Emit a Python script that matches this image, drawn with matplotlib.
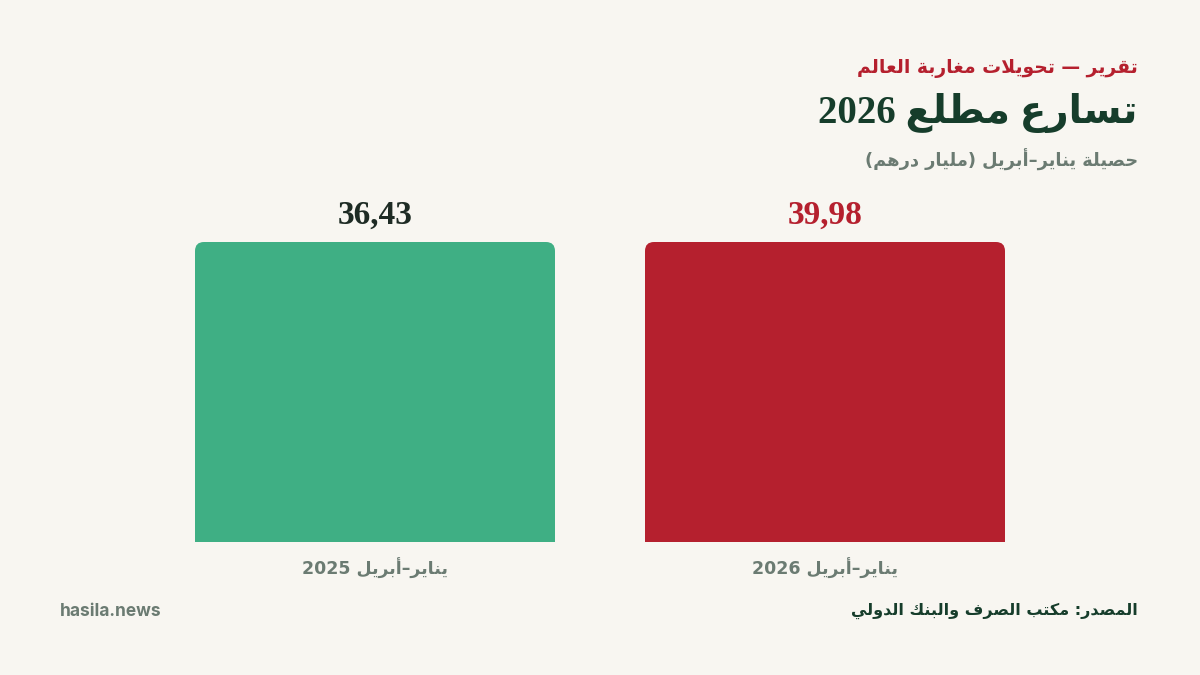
import re
import matplotlib
matplotlib.use("Agg")
import matplotlib.pyplot as plt
from matplotlib.patches import FancyBboxPatch
from matplotlib.transforms import IdentityTransform

# ---------------- data ----------------
categories = ["يناير–أبريل 2025", "يناير–أبريل 2026"]
values = [36.43, 39.98]
value_labels = ["36,43", "39,98"]
bar_colors = ["#3FAF84", "#B5202E"]
value_colors = ["#1E2B24", "#B5202E"]

kicker = "تقرير — تحويلات مغاربة العالم"
title = "تسارع مطلع 2026"
subtitle = "حصيلة يناير–أبريل (مليار درهم)"
source = "المصدر: مكتب الصرف والبنك الدولي"
brand = "hasila.news"

# ---------------- minimal Arabic shaping + bidi ----------------
FORMS = {
    'ا': ('\uFE8D', '\uFE8E', None, None),
    'أ': ('\uFE83', '\uFE84', None, None),
    'ب': ('\uFE8F', '\uFE90', '\uFE91', '\uFE92'),
    'ة': ('\uFE93', '\uFE94', None, None),
    'ت': ('\uFE95', '\uFE96', '\uFE97', '\uFE98'),
    'ح': ('\uFEA1', '\uFEA2', '\uFEA3', '\uFEA4'),
    'د': ('\uFEA9', '\uFEAA', None, None),
    'ر': ('\uFEAD', '\uFEAE', None, None),
    'س': ('\uFEB1', '\uFEB2', '\uFEB3', '\uFEB4'),
    'ص': ('\uFEB9', '\uFEBA', '\uFEBB', '\uFEBC'),
    'ط': ('\uFEC1', '\uFEC2', '\uFEC3', '\uFEC4'),
    'ع': ('\uFEC9', '\uFECA', '\uFECB', '\uFECC'),
    'غ': ('\uFECD', '\uFECE', '\uFECF', '\uFED0'),
    'ف': ('\uFED1', '\uFED2', '\uFED3', '\uFED4'),
    'ق': ('\uFED5', '\uFED6', '\uFED7', '\uFED8'),
    'ك': ('\uFED9', '\uFEDA', '\uFEDB', '\uFEDC'),
    'ل': ('\uFEDD', '\uFEDE', '\uFEDF', '\uFEE0'),
    'م': ('\uFEE1', '\uFEE2', '\uFEE3', '\uFEE4'),
    'ن': ('\uFEE5', '\uFEE6', '\uFEE7', '\uFEE8'),
    'ه': ('\uFEE9', '\uFEEA', '\uFEEB', '\uFEEC'),
    'و': ('\uFEED', '\uFEEE', None, None),
    'ي': ('\uFEF1', '\uFEF2', '\uFEF3', '\uFEF4'),
}
LAM_ALEF = {'ا': ('\uFEFB', '\uFEFC'), 'أ': ('\uFEF7', '\uFEF8')}


def _dual(c):
    return c in FORMS and FORMS[c][2] is not None


def shape(text):
    out, i, n = [], 0, len(text)
    while i < n:
        c = text[i]
        if c not in FORMS:
            out.append(c)
            i += 1
            continue
        jp = i > 0 and _dual(text[i - 1])
        if c == 'ل' and i + 1 < n and text[i + 1] in LAM_ALEF:
            lig = LAM_ALEF[text[i + 1]]
            out.append(lig[1] if jp else lig[0])
            i += 2
            continue
        jn = _dual(c) and i + 1 < n and text[i + 1] in FORMS
        iso, fin, ini, med = FORMS[c]
        out.append(med if (jp and jn) else fin if jp else ini if jn else iso)
        i += 1
    return ''.join(out)


def rtl(text):
    s = shape(text)[::-1]
    s = re.sub(r'[0-9]+(?:[.,][0-9]+)*', lambda m: m.group(0)[::-1], s)
    return s.translate({ord('('): ')', ord(')'): '('})


# ---------------- figure ----------------
W, H = 1200, 675
BG = "#F8F6F1"
fig = plt.figure(figsize=(W / 100, H / 100), dpi=100, facecolor=BG)


def fx(px):
    return px / W


def fy(py):
    return 1 - py / H


AR = ["DejaVu Sans"]
SERIF = ["Liberation Serif", "DejaVu Sans"]

fig.text(fx(1138), fy(69), rtl(kicker), ha="right", va="center",
         fontsize=13.5, fontweight="bold", color="#B5202E", family=AR)
fig.text(fx(1138), fy(113), rtl(title), ha="right", va="center",
         fontsize=28, fontweight="bold", color="#163D2B", family=SERIF)
fig.text(fx(1138), fy(160), rtl(subtitle), ha="right", va="center",
         fontsize=12.8, fontweight="bold", color="#6B7B72", family=AR)

bar_left = [195, 645]
bar_w = 360
bar_top, bar_bot = 242, 542

bars = []
for i, (cat, v) in enumerate(zip(categories, values)):
    ax = fig.add_axes([fx(bar_left[i]), fy(bar_bot), fx(bar_w), (bar_bot - bar_top) / H])
    ax.set_facecolor("none")
    b = ax.bar([0], [v], width=1.0, color=bar_colors[i], linewidth=0)[0]
    ax.set_xlim(-0.5, 0.5)
    ax.set_ylim(0, v)
    ax.axis("off")
    bars.append(b)
    cx = bar_left[i] + bar_w / 2
    fig.text(fx(cx), fy(215), value_labels[i], ha="center", va="center",
             fontsize=24, fontweight="bold", color=value_colors[i], family=SERIF)
    fig.text(fx(cx), fy(568), rtl(cat), ha="center", va="center",
             fontsize=12.5, fontweight="bold", color="#6B7B72", family=AR)

# rounded top corners via clip path in pixel space
fig.canvas.draw()
r = 9
for b in bars:
    bb = b.get_window_extent()
    clip = FancyBboxPatch((bb.x0, bb.y0 - r), bb.width, bb.height + r,
                          boxstyle=f"round,pad=0,rounding_size={r}",
                          transform=IdentityTransform(), facecolor="none", edgecolor="none")
    b.set_clip_path(clip)

fig.text(fx(60), fy(611), brand, ha="left", va="center",
         fontsize=12.5, fontweight="bold", color="#6B7B72", family=["Inter", "DejaVu Sans"])
fig.text(fx(1138), fy(611), rtl(source), ha="right", va="center",
         fontsize=11.5, fontweight="bold", color="#163D2B", family=AR)

fig.savefig("out.png", dpi=100, facecolor=BG)
